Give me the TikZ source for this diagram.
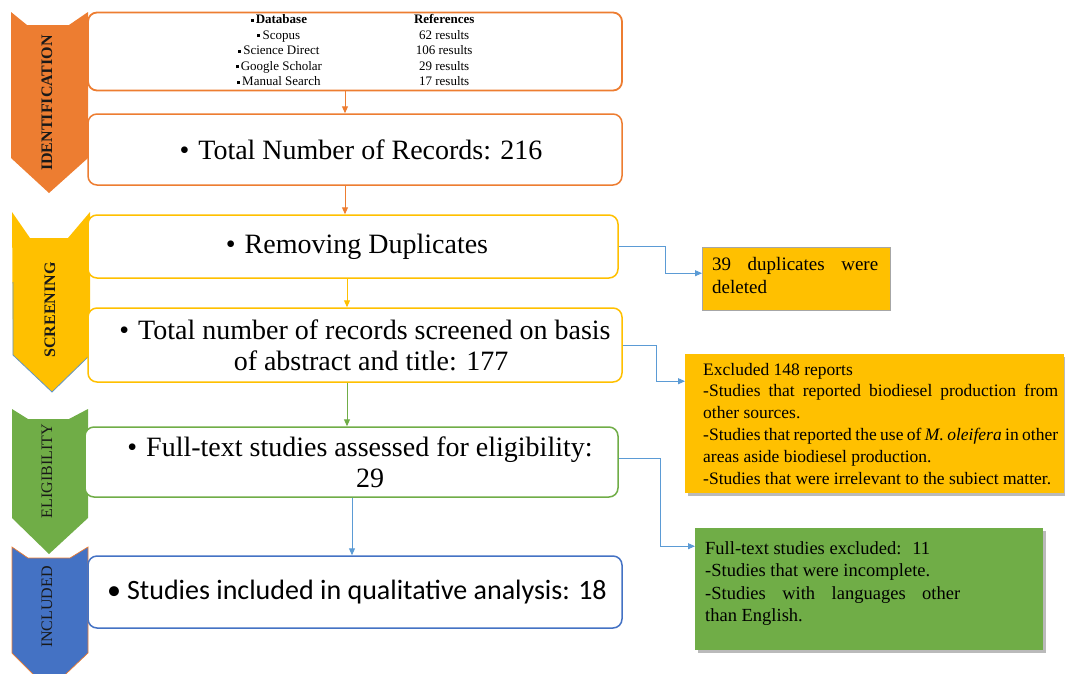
\documentclass[tikz,border=0pt]{standalone}
\usepackage{fontspec}
\setmainfont{Liberation Serif}
\newfontfamily\carl{Carlito}
\usetikzlibrary{arrows.meta,shadows,calc}
\definecolor{corange}{HTML}{ED7D31}
\definecolor{cyellow}{HTML}{FFC000}
\definecolor{cgreen}{HTML}{70AD47}
\definecolor{cblue}{HTML}{4472C4}
\definecolor{clink}{HTML}{5B9BD5}
\newcommand\sqb{\raisebox{0.3ex}{\rule{3pt}{3pt}}\,}
\newcommand\jline[2]{\makebox[#1][s]{#2}}
\tikzset{
  mainbox/.style={draw=#1, fill=white, rounded corners=9pt, line width=1.5pt, inner sep=0pt, align=center, font=\fontsize{28}{31}\selectfont},
  chevtext/.style={rotate=90, text=black!90, font=\fontsize{16}{18}\selectfont, inner sep=0pt},
  flowarrow/.style={draw=#1, line width=1pt, -{Triangle[length=7pt,width=6pt]}},
  sidelink/.style={draw=clink, line width=0.9pt, -{Triangle[length=7pt,width=6pt]}},
  sidebox/.style={fill=#1, inner sep=0pt, align=left, anchor=north west},
  shadowed/.style={drop shadow={fill=black!60, opacity=0.45, shadow xshift=3pt, shadow yshift=-3pt}}
}
\begin{document}
\begin{tikzpicture}[x=1pt,y=-1pt]
\useasboundingbox (0,0) rectangle (1065,673);
\begin{scope}
\clip (0,0) rectangle (1065,673);
% chevrons
\fill[corange] (11,12) -- (27,25) -- (69,25) -- (88,12) -- (88,158) -- (49,193) -- (11,158) -- cycle;
\fill[cyellow] (12,212) -- (30,238) -- (68,238) -- (90,212) -- (90,355) -- (52,392) -- (13,355) -- cycle;
\draw[clink!80!gray, line width=0.8pt] (13,282) -- (13,355) -- (52,392) -- (90,355) -- (90,330);
\fill[cgreen] (12,409) -- (28,419) -- (69,419) -- (88,409) -- (88,518) -- (49,554) -- (12,518) -- cycle;
\filldraw[fill=cblue, draw=corange, line width=0.7pt] (12,547) -- (28,558) -- (70,558) -- (88,547) -- (88,653) -- (49,690) -- (12,653) -- cycle;
\end{scope}
\node[chevtext] (tid) at (47,103) {\bfseries IDENTIFICATION};
\node[chevtext] (tsc) at (50,310) {\bfseries SCREENING};
\node[chevtext] (tel) at (47,471) {ELIGIBILITY};
\node[chevtext] (tin) at (47,607) {INCLUDED};

% main boxes
\node[mainbox=corange, line width=1.8pt, minimum width=534pt, minimum height=77pt] (b1) at (355,51.5)
{\fontsize{13}{15.6}\selectfont
 \begin{tabular}{@{}c@{\hspace{92pt}}c@{}}
 \textbf{\sqb Database} & \textbf{References}\\
 \sqb Scopus & 62 results\\
 \sqb Science Direct & 106 results\\
 \sqb Google Scholar & 29 results\\
 \sqb Manual Search & 17 results
 \end{tabular}};
\node[mainbox=corange, minimum width=534pt, minimum height=71pt] (b2) at (355,149.5)
{\hspace*{12pt}\textbullet\hspace{9pt}Total Number of Records: 216};
\node[mainbox=cyellow, minimum width=530pt, minimum height=63pt] (b3) at (353,246.5)
{\hspace*{8pt}\textbullet\hspace{9pt}Removing Duplicates};
\node[mainbox=cyellow, minimum width=534pt, minimum height=74pt] (b4) at (355,345)
{\hspace*{20pt}\textbullet\hspace{9pt}Total number of records screened on basis\\ \hspace*{32pt}of abstract and title: 177};
\node[mainbox=cgreen, minimum width=533pt, minimum height=70pt] (b5) at (351.5,462)
{\hspace*{17pt}\textbullet\hspace{9pt}Full-text studies assessed for eligibility:\\ \hspace*{37pt}29};
\node[mainbox=cblue, minimum width=534pt, minimum height=72pt, font=\carl\fontsize{28}{31}\selectfont] (b6) at (355,592)
{\hspace*{4pt}\textbullet\hspace{6pt}Studies included in qualitative analysis: 18};

% side boxes
\node[sidebox=cyellow, draw=black!35, line width=0.4pt, minimum width=188pt, minimum height=63pt] (b7) at (702,247)
{\makebox[188pt][l]{\hspace{10pt}\parbox{166pt}{\fontsize{19}{23}\selectfont
 \jline{166pt}{39 duplicates were}\\
 deleted\rule[-6pt]{0pt}{6pt}}}};
\node[sidebox=cyellow, shadowed, minimum width=379pt, minimum height=139pt] (b8) at (685,354)
{\makebox[379pt][l]{\hspace{18pt}\parbox{355pt}{\fontsize{17.5}{21.8}\selectfont
 Excluded 148 reports\\
 \jline{355pt}{-Studies that reported biodiesel production from}\\
 other sources.\\
 \jline{355pt}{-Studies that reported the use of \textit{M. oleifera} in other}\\
 areas aside biodiesel production.\\
 -Studies that were irrelevant to the subiect matter.}}};
\node[sidebox=cgreen, shadowed, minimum width=348pt, minimum height=122pt] (b9) at (695,528)
{\makebox[348pt][l]{\hspace{10pt}\parbox{255pt}{\fontsize{18.5}{22.5}\selectfont
 Full-text studies excluded:~ 11\\
 -Studies that were incomplete.\\
 \jline{255pt}{-Studies with languages other}\\
 than English.\rule[-15pt]{0pt}{15pt}}}};

% flow arrows
\draw[flowarrow=corange] ([xshift=-10pt]b1.south) -- ([xshift=-10pt]b1.south |- b2.north);
\draw[flowarrow=corange] ([xshift=-10pt]b2.south) -- ([xshift=-10pt]b2.south |- b3.north);
\draw[flowarrow=cyellow] ([xshift=-6pt]b3.south) -- ([xshift=-6pt]b3.south |- b4.north);
\draw[flowarrow=cgreen] ([xshift=-8pt]b4.south) -- ([xshift=-8pt]b4.south |- b5.north);
\draw[flowarrow=clink] ([xshift=0.5pt]b5.south) -- ([xshift=0.5pt]b5.south |- b6.north);

% side links
\draw[sidelink] (b3.east) -- ++(47,0) |- ([yshift=5.5pt]b7.west);
\draw[sidelink] (b4.east) -- ++(34,0) |- ([yshift=42.5pt]b8.west);
\draw[sidelink] ([yshift=4pt]b5.east) -- ++(42,0) |- ([yshift=43pt]b9.west);
\end{tikzpicture}
\end{document}
